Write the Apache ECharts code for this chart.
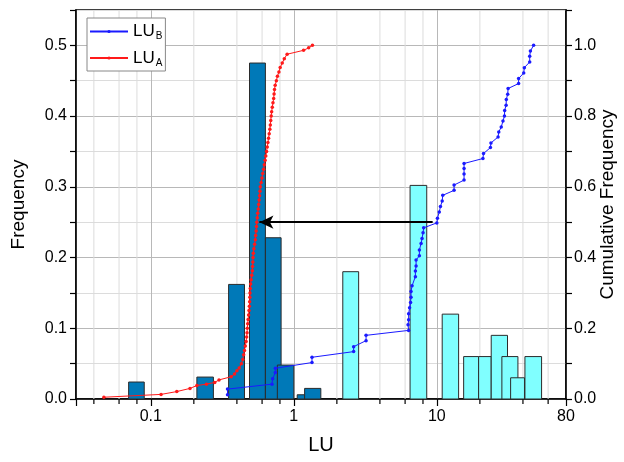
<!DOCTYPE html>
<html>
<head>
<meta charset="utf-8">
<script src="https://cdn.jsdelivr.net/npm/echarts@6/dist/echarts.min.js"></script>
<style>
  html, body { margin: 0; padding: 0; background: #fff; }
  #chart { width: 624px; height: 462px; }
</style>
</head>
<body>
<div id="chart"></div>
<script>
// Histogram of LU_A (lower edge, upper edge, frequency)
const binsA_lo   = [0.07, 0.21, 0.35, 0.49, 0.633, 0.767, 1.056, 1.19];
const binsA_hi   = [0.09, 0.274, 0.452, 0.633, 0.815, 1.0, 1.19, 1.545];
const binsA_freq = [0.024, 0.031, 0.162, 0.475, 0.228, 0.048, 0.006, 0.015];

// Histogram of LU_B
const binsB_lo   = [2.2, 6.5, 10.9, 15.4, 19.6, 24.0, 28.5, 32.8, 41.3];
const binsB_hi   = [2.84, 8.5, 14.2, 19.6, 24.0, 31.2, 36.9, 41.0, 54.0];
const binsB_freq = [0.18, 0.302, 0.12, 0.06, 0.06, 0.09, 0.06, 0.03, 0.06];

// Cumulative distribution of LU_A
const cdfA_lu = [
  0.047, 0.118, 0.152, 0.188, 0.21, 0.245, 0.28, 0.30, 0.365, 0.385, 0.40, 0.415, 0.43, 0.440,
  0.446, 0.452, 0.458, 0.464, 0.468, 0.471, 0.473, 0.476, 0.479, 0.483, 0.486, 0.489, 0.491, 0.493,
  0.494, 0.496, 0.499, 0.503, 0.508, 0.513, 0.515, 0.517, 0.519, 0.521, 0.526, 0.532, 0.538, 0.541,
  0.545, 0.548, 0.551, 0.555, 0.559, 0.564, 0.568, 0.572, 0.576, 0.580, 0.583, 0.591, 0.599, 0.606,
  0.615, 0.622, 0.630, 0.637, 0.645, 0.652, 0.659, 0.666, 0.673, 0.680, 0.685, 0.690, 0.695, 0.700,
  0.707, 0.715, 0.723, 0.728, 0.733, 0.741, 0.755, 0.768, 0.787, 0.803, 0.830, 0.858, 0.898, 1.17,
  1.27, 1.35
];
const cdfA_cum = [
  0.005, 0.013, 0.021, 0.030, 0.038, 0.042, 0.047, 0.054, 0.063, 0.071, 0.080, 0.088, 0.100, 0.112,
  0.125, 0.1375, 0.15, 0.1625, 0.175, 0.1875, 0.20, 0.2125, 0.225, 0.2375, 0.25, 0.2625, 0.275, 0.2875,
  0.30, 0.3125, 0.325, 0.3375, 0.35, 0.3625, 0.375, 0.3875, 0.40, 0.4125, 0.425, 0.4375, 0.45, 0.4625,
  0.475, 0.4875, 0.50, 0.5125, 0.525, 0.5375, 0.55, 0.5625, 0.575, 0.5875, 0.60, 0.6125, 0.625, 0.6375,
  0.65, 0.6625, 0.675, 0.6875, 0.70, 0.7125, 0.725, 0.7375, 0.75, 0.7625, 0.775, 0.7875, 0.80, 0.8125,
  0.825, 0.8375, 0.85, 0.8625, 0.875, 0.8875, 0.90, 0.9125, 0.925, 0.9375, 0.95, 0.9625, 0.975, 0.986,
  0.993, 1.0
];

// Cumulative distribution of LU_B
const cdfB_lu = [
  0.344, 0.344, 0.704, 0.711, 0.743, 0.743, 1.34, 1.34, 2.62, 2.62, 3.20, 3.20,
  6.35, 6.29, 6.35, 6.35, 6.45, 6.55, 6.60, 6.60, 6.71, 7.08, 7.08, 7.16, 7.16, 7.55, 7.55,
  7.76, 7.88, 8.01, 8.09, 10.0, 10.1, 10.4, 10.6, 10.9, 11.0, 13.2, 13.2, 15.5, 15.5, 15.5, 15.5,
  21.0, 21.2, 23.7, 23.9, 26.8, 27.1, 28.2, 29.0, 29.7, 29.8, 30.5, 30.6, 31.3, 31.5,
  37.3, 37.3, 40.5, 40.9, 44.6, 44.6, 45.1, 47.5
];
const cdfB_cum = [
  0.012, 0.028, 0.042, 0.057, 0.075, 0.087, 0.103, 0.118, 0.134, 0.148, 0.165, 0.180,
  0.194, 0.210, 0.224, 0.241, 0.258, 0.273, 0.288, 0.304, 0.320, 0.346, 0.362, 0.376, 0.393, 0.405, 0.421,
  0.440, 0.454, 0.470, 0.484, 0.498, 0.511, 0.529, 0.544, 0.560, 0.576, 0.590, 0.605, 0.619, 0.636, 0.652, 0.666,
  0.680, 0.694, 0.711, 0.724, 0.741, 0.755, 0.769, 0.786, 0.800, 0.816, 0.831, 0.847, 0.862, 0.878,
  0.892, 0.906, 0.922, 0.937, 0.953, 0.969, 0.984, 1.0
];

// Median shift arrow (LU_B median -> LU_A median at cumulative 0.5)
const arrowFrom = [9.35, 0.5];
const arrowTo = [0.575, 0.5];

// Intermediate log-axis marks
const minorTicks = [0.04, 0.06, 0.08, 0.2, 0.4, 0.6, 0.8, 2, 4, 6, 8, 20, 40, 60];

const FONT = 'Liberation Sans, Arial, sans-serif';

const zip = (a, b) => a.map((v, i) => [v, b[i]]);
const binData = (lo, hi, f) => lo.map((v, i) => [v, hi[i], f[i]]);

function barRenderer(fill) {
  return function (params, api) {
    const a = api.coord([api.value(0), api.value(2)]);
    const b = api.coord([api.value(1), 0]);
    return {
      type: 'rect',
      shape: { x: a[0], y: a[1], width: b[0] - a[0], height: b[1] - a[1] },
      style: { fill: fill, stroke: '#2b2b2b', lineWidth: 1 }
    };
  };
}

function minorRenderer(params, api) {
  const v = api.value(0);
  const p0 = api.coord([v, 0]);
  const p1 = api.coord([v, 0.55]);
  return {
    type: 'group',
    children: [
      { type: 'line', shape: { x1: p0[0], y1: p0[1], x2: p1[0], y2: p1[1] },
        style: { stroke: '#dcdcdc', lineWidth: 1 } },
      { type: 'line', shape: { x1: p0[0], y1: p0[1], x2: p0[0], y2: p0[1] + 5 },
        style: { stroke: '#000', lineWidth: 1.2 } }
    ]
  };
}

const chart = echarts.init(document.getElementById('chart'), null, { renderer: 'canvas' });

chart.setOption({
  animation: false,
  backgroundColor: '#fff',
  textStyle: { fontFamily: FONT },
  grid: {
    left: 76, right: 58, top: 10, bottom: 63,
    outerBoundsMode: 'none', containLabel: false,
    show: true, borderColor: '#000', borderWidth: 1.5, backgroundColor: 'transparent'
  },
  legend: {
    data: ['LU_B', 'LU_A'],
    orient: 'vertical',
    left: 87, top: 18,
    itemWidth: 38, itemHeight: 4, itemGap: 8,
    padding: [5, 3, 3, 2],
    borderColor: '#888', borderWidth: 1,
    backgroundColor: '#fff',
    formatter: function (name) {
      return '{m|LU}{s|' + name.split('_')[1] + '}';
    },
    textStyle: {
      rich: {
        m: { fontSize: 17, fontFamily: FONT, color: '#000' },
        s: { fontSize: 10, fontFamily: FONT, color: '#000', padding: [10, 0, 0, 1] }
      }
    }
  },
  xAxis: {
    type: 'log', logBase: 10, min: 0.03, max: 80,
    name: 'LU', nameLocation: 'middle', nameGap: 36,
    nameTextStyle: { fontSize: 20, color: '#000', fontFamily: FONT },
    axisLine: { lineStyle: { color: '#000', width: 1.5 } },
    axisTick: { inside: false, length: 7, lineStyle: { color: '#000', width: 1.2 } },
    axisLabel: {
      fontSize: 16, color: '#000', margin: 10, fontFamily: FONT,
      formatter: v => (v < 0.05 ? '' : (v >= 1 ? String(Math.round(v)) : String(v)))
    },
    splitLine: { show: true, lineStyle: { color: '#b8b8b8', width: 1 } },
    minorTick: { show: false }
  },
  yAxis: [
    {
      type: 'value', min: 0, max: 0.55, interval: 0.05,
      name: 'Frequency', nameLocation: 'middle', nameGap: 48,
      nameTextStyle: { fontSize: 19, color: '#000', fontFamily: FONT },
      axisLine: { show: true, lineStyle: { color: '#000', width: 1.5 } },
      axisTick: { show: true, inside: false, length: 6, lineStyle: { color: '#000', width: 1.2 } },
      axisLabel: {
        fontSize: 16, color: '#000', margin: 9, fontFamily: FONT,
        formatter: v => (Math.round(v * 100) % 10 === 0 && v < 0.52 ? v.toFixed(1) : '')
      },
      splitLine: { show: true, lineStyle: { color: ['#b8b8b8', '#dcdcdc'], width: 1 } }
    },
    {
      type: 'value', min: 0, max: 1.1, interval: 0.1, position: 'right',
      name: 'Cumulative Frequency', nameLocation: 'middle', nameGap: 32, nameMoveOverlap: false,
      nameTextStyle: { fontSize: 19, color: '#000', fontFamily: FONT },
      axisLine: { show: true, lineStyle: { color: '#000', width: 1.5 } },
      axisTick: { show: true, inside: false, length: 6, lineStyle: { color: '#000', width: 1.2 } },
      axisLabel: {
        fontSize: 16, color: '#000', margin: 8, fontFamily: FONT,
        formatter: v => (Math.round(v * 10) % 2 === 0 && v < 1.05 ? v.toFixed(1) : '')
      },
      splitLine: { show: false }
    }
  ],
  series: [
    {
      type: 'custom', name: 'minor', z: 1, silent: true, clip: false,
      xAxisIndex: 0, yAxisIndex: 0,
      encode: { x: 0, y: 1 },
      data: minorTicks.map(v => [v, 0]),
      renderItem: minorRenderer
    },
    {
      type: 'custom', name: 'hist A', z: 2, silent: true,
      xAxisIndex: 0, yAxisIndex: 0,
      encode: { x: [0, 1], y: 2 },
      data: binData(binsA_lo, binsA_hi, binsA_freq),
      renderItem: barRenderer('#0079b8')
    },
    {
      type: 'custom', name: 'hist B', z: 2, silent: true,
      xAxisIndex: 0, yAxisIndex: 0,
      encode: { x: [0, 1], y: 2 },
      data: binData(binsB_lo, binsB_hi, binsB_freq),
      renderItem: barRenderer('#80ffff')
    },
    {
      type: 'line', name: 'LU_B', z: 3, yAxisIndex: 1,
      data: zip(cdfB_lu, cdfB_cum),
      color: '#1a1aff',
      symbol: 'circle', symbolSize: 3.5, showAllSymbol: true,
      lineStyle: { width: 1, color: '#1a1aff' },
      itemStyle: { color: '#1a1aff' },
      markLine: {
        silent: true, z: 5,
        symbol: ['none', 'arrow'], symbolSize: [10, 14],
        lineStyle: { color: '#000', width: 2, type: 'solid' },
        label: { show: false },
        data: [[{ coord: arrowFrom }, { coord: arrowTo }]]
      }
    },
    {
      type: 'line', name: 'LU_A', z: 3, yAxisIndex: 1,
      data: zip(cdfA_lu, cdfA_cum),
      color: '#ff1a1a',
      symbol: 'circle', symbolSize: 3.5, showAllSymbol: true,
      lineStyle: { width: 1, color: '#ff1a1a' },
      itemStyle: { color: '#ff1a1a' }
    }
  ]
});
</script>
</body>
</html>
